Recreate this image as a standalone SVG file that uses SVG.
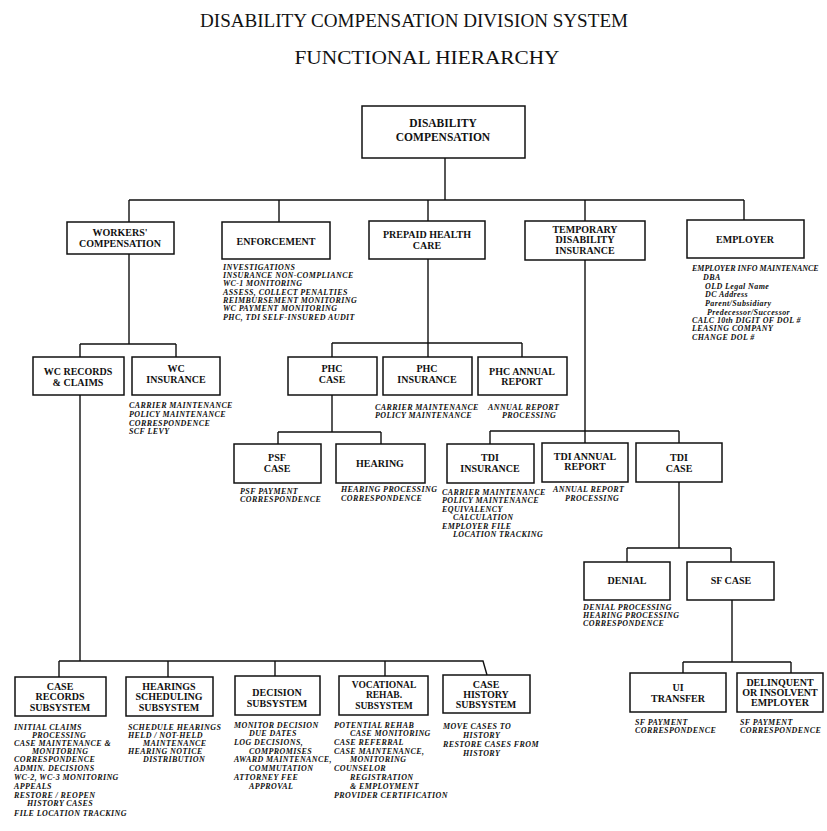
<svg xmlns="http://www.w3.org/2000/svg" width="827" height="831" viewBox="0 0 827 831">
<style>
.bx{fill:#fff;stroke:#111;stroke-width:1.5}
.ln{fill:none;stroke:#111;stroke-width:1.4}
.t{font-family:"Liberation Serif",serif;font-size:19.5px;fill:#111;text-anchor:middle}
.lb{font-family:"Liberation Serif",serif;font-weight:bold;font-size:10px;fill:#111;text-anchor:middle}
.rt{font-size:11.5px}
.sm{font-size:9.5px}
.d{font-family:"Liberation Serif",serif;font-weight:bold;font-style:italic;font-size:8px;letter-spacing:0.4px;fill:#111}
.tight{letter-spacing:0px}
</style>
<rect width="827" height="831" fill="#fff"/>
<text class="t" x="414" y="27" textLength="428" lengthAdjust="spacingAndGlyphs">DISABILITY COMPENSATION DIVISION SYSTEM</text>
<text class="t" x="427" y="64" textLength="265" lengthAdjust="spacingAndGlyphs">FUNCTIONAL HIERARCHY</text>
<g id="connectors">
<path class="ln" d="M445 158V200M129 200H744M129 200V222M279 200V222M428 200V221M585 200V221M744 200V220"/>
<path class="ln" d="M129 254V344M80 344H176M80 344V357M176 344V357"/>
<path class="ln" d="M428 259V343M332 343H522M332 343V357M522 343V357M428 343V357"/>
<path class="ln" d="M332 395V432M278 432H381M278 432V444M381 432V444"/>
<path class="ln" d="M585 260V443M490 431H679M490 431V444M679 431V443"/>
<path class="ln" d="M679 482V548M627 548H731M627 548V562M731 548V562"/>
<path class="ln" d="M732 600V662M683 662H791M683 662V673M791 662V673"/>
<path class="ln" d="M80 395V661M59 661H483L487 675M59 661V677M168 661V677M275 661V676M385 661V676"/>
</g>
<g id="root"><rect class="bx" x="362" y="106" width="163" height="52"/>
<text class="lb rt" x="443" y="127">DISABILITY</text><text class="lb rt" x="443" y="141">COMPENSATION</text></g>
<g id="wc"><rect class="bx" x="67" y="222" width="107" height="32"/>
<text class="lb" x="120" y="236">WORKERS'</text><text class="lb" x="120" y="247">COMPENSATION</text></g>
<g id="enforcement"><rect class="bx" x="222" y="222" width="108" height="37"/>
<text class="lb" x="276" y="245">ENFORCEMENT</text>
<text class="d" x="223" y="270">INVESTIGATIONS</text>
<text class="d" x="223" y="278">INSURANCE NON-COMPLIANCE</text>
<text class="d" x="223" y="286">WC-1 MONITORING</text>
<text class="d" x="223" y="295">ASSESS, COLLECT PENALTIES</text>
<text class="d" x="223" y="303">REIMBURSEMENT MONITORING</text>
<text class="d" x="223" y="311">WC PAYMENT MONITORING</text>
<text class="d" x="223" y="320">PHC, TDI SELF-INSURED AUDIT</text></g>
<g id="phc"><rect class="bx" x="369" y="221" width="116" height="38"/>
<text class="lb" x="427" y="238">PREPAID HEALTH</text><text class="lb" x="427" y="249">CARE</text></g>
<g id="tdi"><rect class="bx" x="525" y="221" width="120" height="39"/>
<text class="lb" x="585" y="233">TEMPORARY</text><text class="lb" x="585" y="243">DISABILITY</text><text class="lb" x="585" y="254">INSURANCE</text></g>
<g id="employer"><rect class="bx" x="687" y="220" width="117" height="38"/>
<text class="lb" x="745" y="243">EMPLOYER</text>
<text class="d tight" x="692" y="271">EMPLOYER INFO MAINTENANCE</text>
<text class="d" x="703" y="280">DBA</text>
<text class="d" x="705" y="289">OLD Legal Name</text>
<text class="d" x="705" y="297">DC Address</text>
<text class="d" x="705" y="306">Parent/Subsidiary</text>
<text class="d" x="707" y="315">Predecessor/Successor</text>
<text class="d" x="692" y="323">CALC 10th DIGIT OF DOL #</text>
<text class="d" x="692" y="331">LEASING COMPANY</text>
<text class="d" x="692" y="340">CHANGE DOL #</text></g>
<g id="wc-records"><rect class="bx" x="33" y="357" width="91" height="38"/>
<text class="lb" x="78" y="375">WC RECORDS</text><text class="lb" x="78" y="386">&amp; CLAIMS</text></g>
<g id="wc-insurance"><rect class="bx" x="132" y="357" width="88" height="38"/>
<text class="lb" x="176" y="372">WC</text><text class="lb" x="176" y="383">INSURANCE</text>
<text class="d" x="129" y="408">CARRIER MAINTENANCE</text>
<text class="d" x="129" y="417">POLICY MAINTENANCE</text>
<text class="d" x="129" y="426">CORRESPONDENCE</text>
<text class="d" x="129" y="434">SCF LEVY</text></g>
<g id="phc-case"><rect class="bx" x="288" y="357" width="89" height="38"/>
<text class="lb" x="332" y="372">PHC</text><text class="lb" x="332" y="383">CASE</text></g>
<g id="phc-insurance"><rect class="bx" x="383" y="357" width="89" height="38"/>
<text class="lb" x="427" y="372">PHC</text><text class="lb" x="427" y="383">INSURANCE</text>
<text class="d" x="375" y="410">CARRIER MAINTENANCE</text>
<text class="d" x="375" y="418">POLICY MAINTENANCE</text></g>
<g id="phc-annual"><rect class="bx" x="478" y="357" width="89" height="38"/>
<text class="lb" x="522" y="375">PHC ANNUAL</text><text class="lb" x="522" y="385">REPORT</text>
<text class="d" x="488" y="410">ANNUAL REPORT</text>
<text class="d" x="502" y="418">PROCESSING</text></g>
<g id="psf-case"><rect class="bx" x="234" y="444" width="87" height="39"/>
<text class="lb" x="277" y="461">PSF</text><text class="lb" x="277" y="472">CASE</text>
<text class="d" x="240" y="494">PSF PAYMENT</text>
<text class="d" x="240" y="502">CORRESPONDENCE</text></g>
<g id="hearing"><rect class="bx" x="336" y="444" width="89" height="39"/>
<text class="lb" x="380" y="467">HEARING</text>
<text class="d" x="341" y="492">HEARING PROCESSING</text>
<text class="d" x="341" y="501">CORRESPONDENCE</text></g>
<g id="tdi-insurance"><rect class="bx" x="447" y="444" width="87" height="39"/>
<text class="lb" x="490" y="461">TDI</text><text class="lb" x="490" y="472">INSURANCE</text>
<text class="d" x="442" y="495">CARRIER MAINTENANCE</text>
<text class="d" x="442" y="503">POLICY MAINTENANCE</text>
<text class="d" x="442" y="512">EQUIVALENCY</text>
<text class="d" x="453" y="520">CALCULATION</text>
<text class="d" x="442" y="529">EMPLOYER FILE</text>
<text class="d" x="453" y="537">LOCATION TRACKING</text></g>
<g id="tdi-annual"><rect class="bx" x="542" y="443" width="86" height="39"/>
<text class="lb" x="585" y="460">TDI ANNUAL</text><text class="lb" x="585" y="470">REPORT</text>
<text class="d" x="553" y="492">ANNUAL REPORT</text>
<text class="d" x="565" y="501">PROCESSING</text></g>
<g id="tdi-case"><rect class="bx" x="636" y="443" width="86" height="39"/>
<text class="lb" x="679" y="461">TDI</text><text class="lb" x="679" y="472">CASE</text></g>
<g id="denial"><rect class="bx" x="584" y="562" width="86" height="38"/>
<text class="lb" x="627" y="584">DENIAL</text>
<text class="d" x="583" y="610">DENIAL PROCESSING</text>
<text class="d" x="583" y="618">HEARING PROCESSING</text>
<text class="d" x="583" y="626">CORRESPONDENCE</text></g>
<g id="sf-case"><rect class="bx" x="687" y="562" width="87" height="38"/>
<text class="lb" x="731" y="584">SF CASE</text></g>
<g id="ui-transfer"><rect class="bx" x="630" y="673" width="96" height="39"/>
<text class="lb" x="678" y="691">UI</text><text class="lb" x="678" y="702">TRANSFER</text>
<text class="d" x="635" y="725">SF PAYMENT</text>
<text class="d" x="635" y="733">CORRESPONDENCE</text></g>
<g id="delinquent"><rect class="bx" x="737" y="673" width="86" height="39"/>
<text class="lb" x="780" y="686">DELINQUENT</text><text class="lb" x="780" y="696">OR INSOLVENT</text><text class="lb" x="780" y="706">EMPLOYER</text>
<text class="d" x="740" y="725">SF PAYMENT</text>
<text class="d" x="740" y="733">CORRESPONDENCE</text></g>
<g id="case-records"><rect class="bx" x="15" y="677" width="91" height="39"/>
<text class="lb" x="60" y="690">CASE</text><text class="lb" x="60" y="700">RECORDS</text><text class="lb" x="60" y="711">SUBSYSTEM</text>
<text class="d" x="14" y="730">INITIAL CLAIMS</text>
<text class="d" x="32" y="738">PROCESSING</text>
<text class="d" x="14" y="746">CASE MAINTENANCE &amp;</text>
<text class="d" x="32" y="754">MONITORING</text>
<text class="d" x="14" y="762">CORRESPONDENCE</text>
<text class="d" x="14" y="771">ADMIN. DECISIONS</text>
<text class="d" x="14" y="780">WC-2, WC-3 MONITORING</text>
<text class="d" x="14" y="789">APPEALS</text>
<text class="d" x="14" y="798">RESTORE / REOPEN</text>
<text class="d" x="27" y="806">HISTORY CASES</text>
<text class="d" x="14" y="816">FILE LOCATION TRACKING</text></g>
<g id="hearings-scheduling"><rect class="bx" x="126" y="677" width="87" height="39"/>
<text class="lb" x="169" y="690">HEARINGS</text><text class="lb" x="169" y="700">SCHEDULING</text><text class="lb" x="169" y="711">SUBSYSTEM</text>
<text class="d" x="128" y="730">SCHEDULE HEARINGS</text>
<text class="d" x="128" y="738">HELD / NOT-HELD</text>
<text class="d" x="143" y="746">MAINTENANCE</text>
<text class="d" x="128" y="754">HEARING NOTICE</text>
<text class="d" x="143" y="762">DISTRIBUTION</text></g>
<g id="decision"><rect class="bx" x="235" y="676" width="85" height="39"/>
<text class="lb" x="277" y="696">DECISION</text><text class="lb" x="277" y="707">SUBSYSTEM</text>
<text class="d" x="234" y="728">MONITOR DECISION</text>
<text class="d" x="249" y="736">DUE DATES</text>
<text class="d" x="234" y="745">LOG DECISIONS,</text>
<text class="d" x="249" y="754">COMPROMISES</text>
<text class="d" x="234" y="762">AWARD MAINTENANCE,</text>
<text class="d" x="249" y="771">COMMUTATION</text>
<text class="d" x="234" y="780">ATTORNEY FEE</text>
<text class="d" x="249" y="789">APPROVAL</text></g>
<g id="vocational"><rect class="bx" x="339" y="676" width="89" height="39"/>
<text class="lb sm" x="384" y="688">VOCATIONAL</text><text class="lb sm" x="384" y="698">REHAB.</text><text class="lb sm" x="384" y="709">SUBSYSTEM</text>
<text class="d" x="334" y="728">POTENTIAL REHAB</text>
<text class="d" x="350" y="736">CASE MONITORING</text>
<text class="d" x="334" y="745">CASE REFERRAL</text>
<text class="d" x="334" y="754">CASE MAINTENANCE,</text>
<text class="d" x="350" y="762">MONITORING</text>
<text class="d" x="334" y="771">COUNSELOR</text>
<text class="d" x="350" y="780">REGISTRATION</text>
<text class="d" x="350" y="789">&amp; EMPLOYMENT</text>
<text class="d" x="334" y="798">PROVIDER CERTIFICATION</text></g>
<g id="case-history"><rect class="bx" x="443" y="675" width="87" height="38"/>
<text class="lb" x="486" y="688">CASE</text><text class="lb" x="486" y="698">HISTORY</text><text class="lb" x="486" y="708">SUBSYSTEM</text>
<text class="d" x="443" y="729">MOVE CASES TO</text>
<text class="d" x="463" y="738">HISTORY</text>
<text class="d" x="443" y="747">RESTORE CASES FROM</text>
<text class="d" x="463" y="756">HISTORY</text></g>
</svg>
